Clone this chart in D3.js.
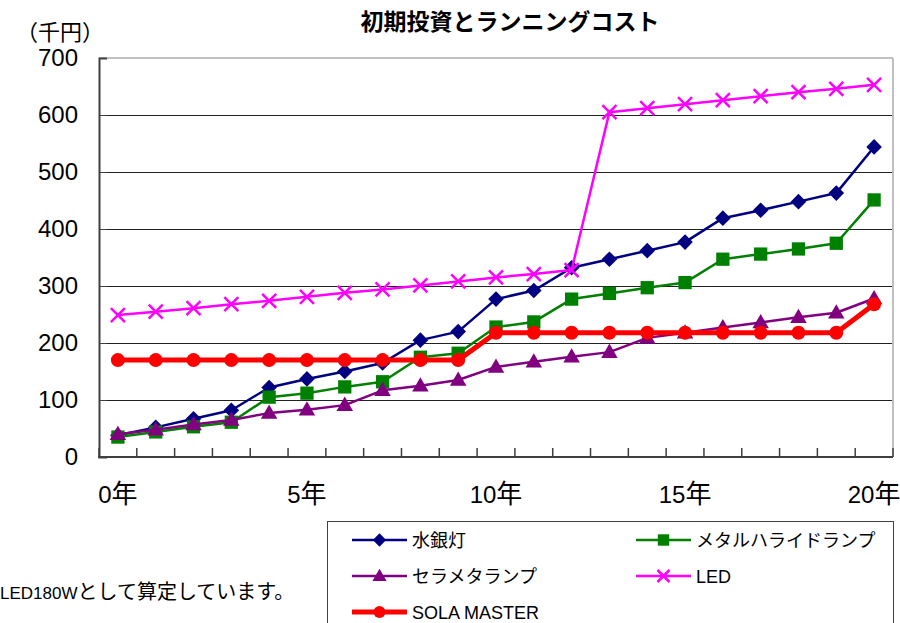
<!DOCTYPE html>
<html lang="ja">

<head>
    <meta charset="UTF-8" />
    <title>初期投資とランニングコスト</title>
    <script src="https://d3js.org/d3.v7.min.js"></script>
    <style>
        body {
            margin: 0;
            background: #fff;
        }

        svg text {
            font-family: "Liberation Sans", Arial, "Noto Sans CJK JP", sans-serif;
            fill: #000;
        }
    </style>
</head>

<body>
    <script>

        // data
        var years = d3.range(0, 21);
        var xTickYears = [0, 5, 10, 15, 20];
        var yTicks = [0, 100, 200, 300, 400, 500, 600, 700];

        var mercury = [38, 52, 67, 82, 122, 137, 150, 165, 205, 220, 277, 292, 332, 347, 362, 377, 419, 433, 448, 463, 544];
        var metalHalide = [35, 44, 53, 61, 105, 112, 123, 132, 175, 182, 228, 237, 277, 287, 297, 306, 347, 356, 365, 375, 451];
        var ceramic = [40, 48, 57, 65, 77, 83, 91, 117, 125, 135, 158, 167, 176, 184, 209, 218, 227, 236, 245, 253, 278];
        var led = [249, 255, 261, 268, 274, 281, 288, 294, 301, 308, 315, 321, 328, 605, 612, 619, 626, 633, 640, 646, 653];
        var solaMaster = [170, 170, 170, 170, 170, 170, 170, 170, 170, 170, 218, 218, 218, 218, 218, 218, 218, 218, 218, 218, 268];

        var series = [
            { name: "水銀灯", values: mercury, color: "#000080", width: 2.5, marker: "diamond" },
            { name: "メタルハライドランプ", values: metalHalide, color: "#008000", width: 2.5, marker: "square" },
            { name: "セラメタランプ", values: ceramic, color: "#800080", width: 2.5, marker: "triangle" },
            { name: "LED", values: led, color: "#FF00FF", width: 2.5, marker: "cross" },
            { name: "SOLA MASTER", values: solaMaster, color: "#FF0000", width: 5, marker: "circle" }
        ];

        var w = 900;
        var h = 623;
        var plot = { left: 99, right: 893, top: 58, bottom: 457 };

        var svg = d3.select("body")
            .append("svg")
            .attr("width", w)
            .attr("height", h);

        var xScale = d3.scaleBand()
            .domain(years)
            .range([plot.left, plot.right])
            .padding(0);

        var yScale = d3.scaleLinear()
            .domain([0, 700])
            .range([plot.bottom, plot.top]);

        function cx(i) { return xScale(years[i]) + xScale.bandwidth() / 2; }

        // gridlines
        svg.append("g")
            .selectAll("line")
            .data(yTicks.filter(function (d) { return d > 0 && d < 700; }))
            .enter()
            .append("line")
            .attr("x1", plot.left)
            .attr("x2", plot.right)
            .attr("y1", function (d) { return Math.round(yScale(d)) + 0.5; })
            .attr("y2", function (d) { return Math.round(yScale(d)) + 0.5; })
            .attr("stroke", "#222")
            .attr("stroke-width", 1);

        // plot border: top and right light grey
        svg.append("line")
            .attr("x1", plot.left).attr("x2", plot.right)
            .attr("y1", plot.top).attr("y2", plot.top)
            .attr("stroke", "#c0c0c0").attr("stroke-width", 2);
        svg.append("line")
            .attr("x1", plot.right).attr("x2", plot.right)
            .attr("y1", plot.top).attr("y2", plot.bottom)
            .attr("stroke", "#c0c0c0").attr("stroke-width", 2);

        // Y axis
        var yAxis = svg.append("g")
            .attr("transform", "translate(" + plot.left + ",0)")
            .call(d3.axisRight(yScale).tickValues(yTicks).tickSize(8).tickFormat(""));
        yAxis.select(".domain").attr("stroke", "#404040").attr("stroke-width", 2);
        yAxis.selectAll(".tick line").attr("stroke", "#404040");

        svg.append("g")
            .selectAll("text")
            .data(yTicks)
            .enter()
            .append("text")
            .attr("x", 78)
            .attr("y", function (d) { return yScale(d) + 8; })
            .attr("text-anchor", "end")
            .style("font-size", "24px")
            .text(function (d) { return d; });

        // X axis: boundary ticks pointing up into the plot
        var bounds = years.map(function (d) { return xScale(d); }).concat([plot.right]);
        svg.append("g")
            .selectAll("line")
            .data(bounds)
            .enter()
            .append("line")
            .attr("x1", function (d) { return d; })
            .attr("x2", function (d) { return d; })
            .attr("y1", plot.bottom)
            .attr("y2", plot.bottom - 9)
            .attr("stroke", "#404040")
            .attr("stroke-width", 1.5);
        svg.append("line")
            .attr("x1", plot.left - 1).attr("x2", plot.right)
            .attr("y1", plot.bottom).attr("y2", plot.bottom)
            .attr("stroke", "#404040").attr("stroke-width", 2);

        var xLabels = svg.append("g")
            .selectAll("text")
            .data(xTickYears)
            .enter()
            .append("text")
            .attr("x", function (d) { return cx(d); })
            .attr("y", 503)
            .attr("text-anchor", "middle")
            .style("font-size", "24px");
        xLabels.append("tspan").text(function (d) { return d; });
        xLabels.append("tspan").style("font-size", "26px").text("年");

        // unit and title
        svg.append("text")
            .attr("x", 16)
            .attr("y", 40)
            .style("font-size", "22px")
            .text("（千円）");

        svg.append("text")
            .attr("x", 510)
            .attr("y", 30)
            .attr("text-anchor", "middle")
            .style("font-size", "23px")
            .style("font-weight", "bold")
            .text("初期投資とランニングコスト");

        // marker drawing
        function drawMarker(g, type, color, s) {
            if (type === "diamond") {
                g.append("path")
                    .attr("d", d3.symbol().type(d3.symbolSquare).size(s * s * 0.62)())
                    .attr("transform", "rotate(45)")
                    .attr("fill", color);
            } else if (type === "square") {
                g.append("path")
                    .attr("d", d3.symbol().type(d3.symbolSquare).size(s * s * 0.9)())
                    .attr("fill", color);
            } else if (type === "triangle") {
                g.append("path")
                    .attr("d", d3.symbol().type(d3.symbolTriangle).size(s * s * 0.6)())
                    .attr("transform", "translate(0,1)")
                    .attr("fill", color);
            } else if (type === "cross") {
                var r = s / 2;
                g.append("path")
                    .attr("d", "M" + (-r) + "," + (-r) + "L" + r + "," + r + "M" + (-r) + "," + r + "L" + r + "," + (-r))
                    .attr("stroke", color)
                    .attr("stroke-width", 2.5)
                    .attr("fill", "none");
            } else if (type === "circle") {
                g.append("circle")
                    .attr("r", s / 2)
                    .attr("fill", color);
            }
        }

        var line = d3.line()
            .x(function (d, i) { return cx(i); })
            .y(function (d) { return yScale(d); });

        series.forEach(function (sr) {
            svg.append("path")
                .datum(sr.values)
                .attr("fill", "none")
                .attr("stroke", sr.color)
                .attr("stroke-width", sr.width)
                .attr("stroke-linejoin", "round")
                .attr("d", line);

            svg.append("g")
                .selectAll("g")
                .data(sr.values)
                .enter()
                .append("g")
                .attr("transform", function (d, i) { return "translate(" + cx(i) + "," + yScale(d) + ")"; })
                .each(function () { drawMarker(d3.select(this), sr.marker, sr.color, 14); });
        });

        // legend
        svg.append("rect")
            .attr("x", 327.5)
            .attr("y", 521.5)
            .attr("width", 566)
            .attr("height", 120)
            .attr("fill", "#fff")
            .attr("stroke", "#404040")
            .attr("stroke-width", 1);

        var legendPos = [
            { x: 352, y: 540 },
            { x: 636, y: 540 },
            { x: 352, y: 576 },
            { x: 636, y: 576 },
            { x: 352, y: 612 }
        ];

        series.forEach(function (sr, i) {
            var p = legendPos[i];
            var g = svg.append("g").attr("transform", "translate(" + p.x + "," + p.y + ")");
            g.append("line")
                .attr("x1", 0).attr("x2", 55)
                .attr("y1", 0).attr("y2", 0)
                .attr("stroke", sr.color)
                .attr("stroke-width", sr.width);
            var m = g.append("g").attr("transform", "translate(27.5,0)");
            drawMarker(m, sr.marker, sr.color, 12);
            g.append("text")
                .attr("x", 60)
                .attr("y", 7)
                .style("font-size", "18px")
                .text(sr.name);
        });

        // footnote
        var note = svg.append("text")
            .attr("x", 0)
            .attr("y", 599);
        note.append("tspan").style("font-size", "17px").text("LED180W");
        note.append("tspan").style("font-size", "20px").text("として算定しています。");

    </script>
</body>

</html>
